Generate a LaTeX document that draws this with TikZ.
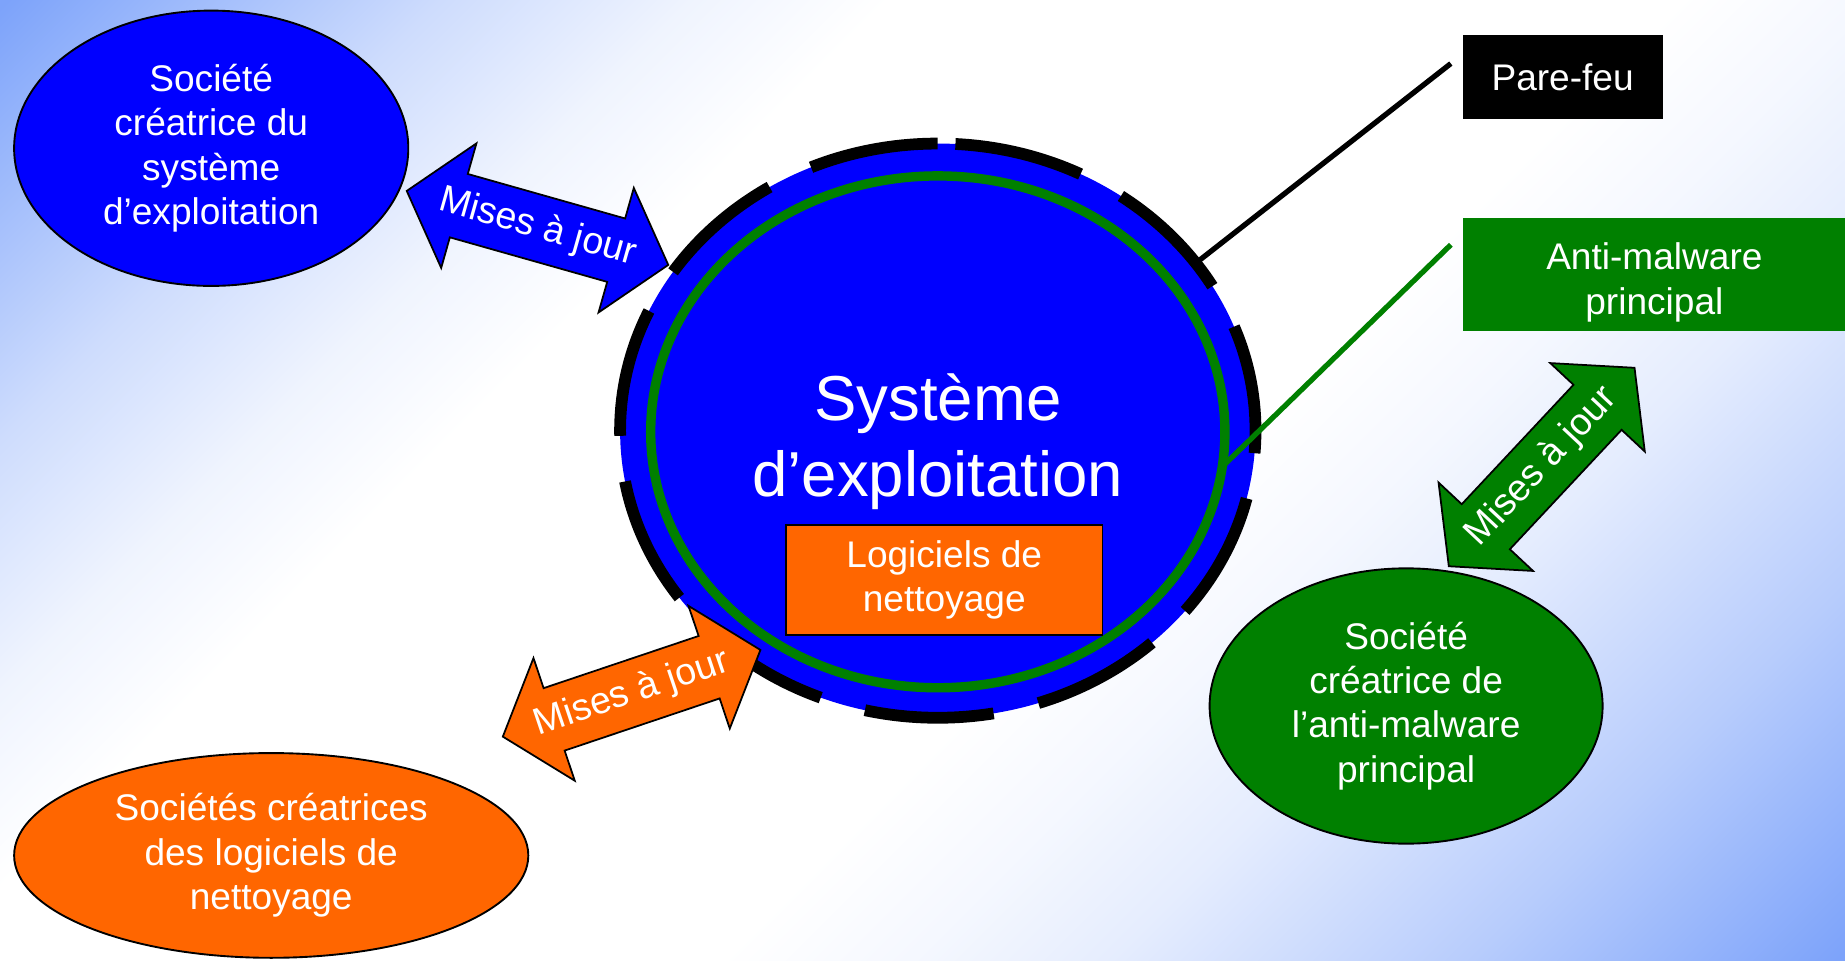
\documentclass[tikz,border=0pt]{standalone}
\usepackage{fontspec}
\setmainfont{Liberation Sans}
\usetikzlibrary{shapes.geometric}
\definecolor{bgb}{RGB}{125,163,250}
\colorlet{bgA}{bgb!38!white}
\colorlet{bgB}{bgb!12!white}
\colorlet{bgC}{bgb!8!white}
\colorlet{bgD}{bgb!20!white}
\colorlet{bgE}{bgb!55!white}
\definecolor{osblue}{RGB}{0,0,255}
\definecolor{orng}{RGB}{255,102,0}
\definecolor{grn}{RGB}{0,128,0}
\pgfdeclarehorizontalshading{bgshade}{100bp}{color(0bp)=(bgb); color(14.64bp)=(bgb); color(25.6bp)=(bgA); color(32bp)=(bgB); color(37bp)=(white); color(57bp)=(white); color(62bp)=(bgC); color(67bp)=(bgD); color(76bp)=(bgE); color(85.36bp)=(bgb); color(100bp)=(bgb)}
\tikzset{
  lbl/.style={text=white, align=center, font=\fontsize{31.5}{37.7}\selectfont, inner sep=0pt},
  oval/.style={ellipse, draw=black, line width=1.6pt, inner sep=0pt, text=white, align=center, font=\fontsize{31.5}{37.7}\selectfont},
  arrowbody/.style={draw=black, line width=1.5pt, line join=miter},
  arrowtxt/.style={text=white, inner sep=0pt, font=\fontsize{32}{38}\selectfont},
}
\newcommand\mjarrow[4]{%
  \begin{scope}[shift={#2}, rotate=#3]
    \draw[arrowbody, fill=#4] (-115.5,0) -- (-69.5,55) -- (-69.5,28) -- (69.5,28) -- (69.5,55) -- (115.5,0) -- (69.5,-55) -- (69.5,-28) -- (-69.5,-28) -- (-69.5,-55) -- cycle;
    \node[arrowtxt, rotate=#3] (#1) at (0,0) {Mises à jour};
  \end{scope}}
\begin{document}
\begin{tikzpicture}[x=1pt, y=-1pt]
\shade[shading=bgshade, shading angle=-45] (0,0) rectangle (1568,816);
\useasboundingbox (0,0) rectangle (1568,816);

% company ellipses
\node[oval, fill=osblue, minimum width=335pt, minimum height=234pt] (socos) at (179.5,126) {Société\\créatrice du\\système\\d’exploitation};
\node[oval, fill=orng, minimum width=437pt, minimum height=174pt] (socnet) at (230.5,727) {Sociétés créatrices\\des logiciels de\\nettoyage};
\node[oval, fill=grn, minimum width=334pt, minimum height=234pt] (socam) at (1195,600) {Société\\créatrice de\\l’anti-malware\\principal};

% operating system
\node[ellipse, fill=osblue, minimum width=540pt, minimum height=488pt, inner sep=0pt, outer sep=0pt] (os) at (797,366) {};
\draw[line width=10pt, dash pattern=on 110pt off 39.08pt, dash phase=134.08pt] (os.north) arc[start angle=90, delta angle=-360, x radius=270pt, y radius=244pt];
\node[ellipse, draw=grn, line width=8pt, minimum width=488pt, minimum height=435pt, inner sep=0pt, outer sep=0pt] (ring) at (797,367) {};
\node[lbl, font=\fontsize{54}{64}\selectfont] (ostxt) at (797,375.5) {Système\\d’exploitation};
\node[draw=black, line width=1.6pt, fill=orng, lbl, minimum width=269pt, minimum height=93pt] (net) at (802.5,493) {Logiciels de\\nettoyage};

% right boxes
\node[fill=black, lbl, minimum width=170pt, minimum height=71pt] (pf) at (1328,65.5) {Pare-feu};
\node[fill=grn, minimum width=325pt, minimum height=96pt] (am) at (1405.5,233) {};
\node[lbl] (amtxt) at (1406,240) {Anti-malware\\principal};

% connectors
\coordinate (pfend) at (1233,54);
\coordinate (amend) at (1233,208);
\draw[line width=4.5pt] (os.33.8) -- (pfend);
\draw[grn, line width=4.5pt] (ring.-7) -- (amend);

% update arrows
\mjarrow{upos}{(456.8,193.7)}{-15.8}{osblue}
\mjarrow{upnet}{(536.8,589.2)}{18.6}{orng}
\mjarrow{upam}{(1310.2,396.9)}{46.9}{grn}
\end{tikzpicture}
\end{document}
